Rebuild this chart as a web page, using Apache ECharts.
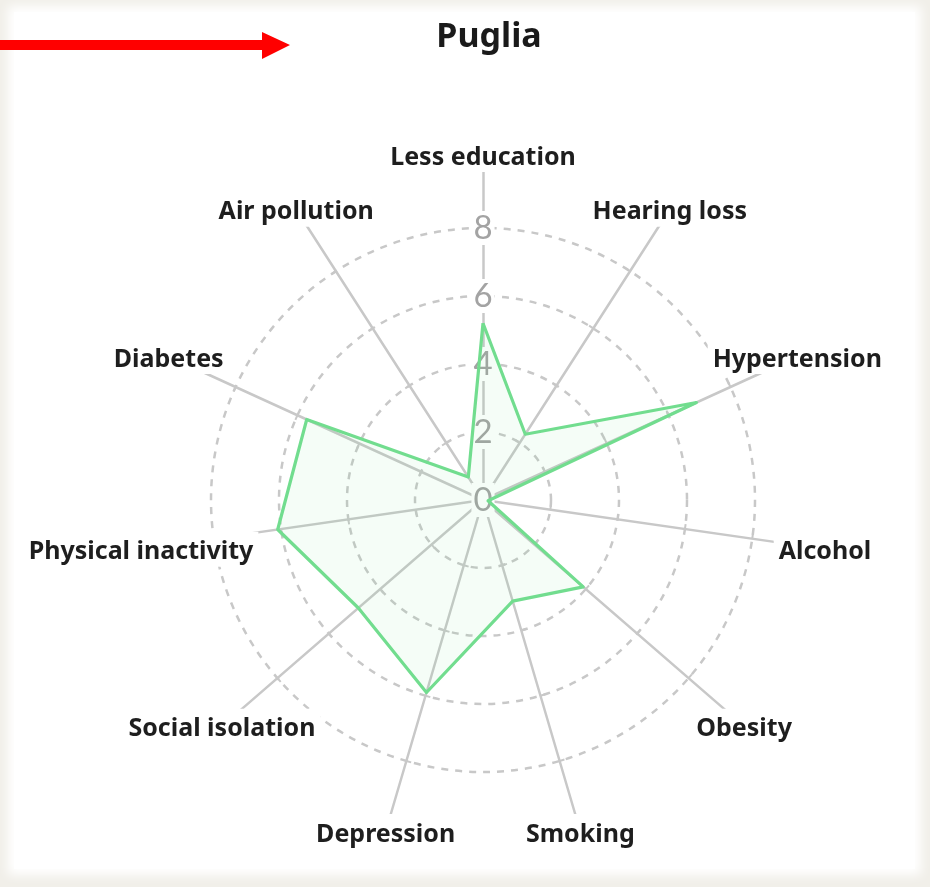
<!DOCTYPE html>
<html>
<head>
<meta charset="utf-8">
<script src="https://cdn.jsdelivr.net/npm/echarts@6/dist/echarts.min.js"></script>
<style>
  html, body { margin: 0; padding: 0; width: 930px; height: 887px; overflow: hidden; background: #f1efe9; }
  #card { position: absolute; left: 14px; top: 12px; width: 901px; height: 857px; background: #fff; box-shadow: 0 0 10px 6px #fff; }
  #chart { position: absolute; left: 0; top: 0; width: 930px; height: 887px; }
</style>
</head>
<body>
<div id="card"></div>
<div id="chart"></div>
<script>
// Risk factors, listed clockwise from the top
const categories = ['Less education', 'Hearing loss', 'Hypertension', 'Alcohol', 'Obesity', 'Smoking',
                    'Depression', 'Social isolation', 'Physical inactivity', 'Diabetes', 'Air pollution'];
const values = [5.2, 2.3, 6.9, 0.15, 3.9, 3.1, 5.9, 4.85, 6.1, 5.7, 0.8];
const tickLabels = ['0', '2', '4', '6', '8'];
const axisMax = 10;
const title = 'Puglia';

// ECharts lays out radar indicators counter-clockwise: keep first, reverse the rest
const order = [0].concat(categories.map((_, i) => i).slice(1).reverse());

const indicator = order.map((idx, k) => ({
  name: categories[idx],
  min: 0,
  max: axisMax,
  axisLabel: { show: k === 0 }
}));
const lineIndicator = order.map(idx => ({ name: categories[idx], min: 0, max: axisMax }));
const seriesData = order.map(idx => values[idx]);

const chart = echarts.init(document.getElementById('chart'), null, { renderer: 'canvas' });
chart.setOption({
  backgroundColor: 'transparent',
  animation: false,
  title: {
    text: title,
    left: 484,
    textAlign: 'center',
    top: 15,
    textStyle: { fontFamily: 'Noto Sans', fontWeight: 'bold', fontSize: 34, color: '#1a1a1a' }
  },
  graphic: [{
    type: 'polygon',
    shape: { points: [[0, 40], [262, 40], [262, 32], [290, 45], [262, 59], [262, 50], [0, 50]] },
    style: { fill: '#ff0000' },
    z: 10
  }],
  radar: [{
    // spokes with ticks (drawn underneath names and tick labels)
    z: 1,
    center: [483, 500],
    radius: 340,
    startAngle: 90,
    shape: 'circle',
    splitNumber: 5,
    axisName: { show: false },
    axisLine: { show: true, lineStyle: { color: '#c8c8c8', width: 2.5 } },
    axisTick: { show: true, length: 5, lineStyle: { color: '#c8c8c8', width: 2 } },
    axisLabel: { show: false },
    splitLine: { show: false },
    splitArea: { show: false },
    indicator: lineIndicator
  }, {
    z: 2,
    center: [483, 500],
    radius: 340,
    startAngle: 90,
    shape: 'circle',
    splitNumber: 5,
    nameGap: 5.5,
    axisName: {
      color: '#1e1e1e',
      fontFamily: 'Noto Sans',
      fontWeight: 'bold',
      fontSize: 25,
      backgroundColor: '#fff',
      padding: [2, 5],
      align: 'center',
      verticalAlign: 'middle',
      formatter: function (name) { return '{n|' + name + '}'; },
      rich: {
        n: {
          fontFamily: 'Noto Sans',
          fontWeight: 'bold',
          fontSize: 25,
          color: '#1e1e1e',
          padding: [6, 0, 0, 0]
        }
      }
    },
    axisLine: { show: false },
    axisTick: { show: false },
    axisLabel: {
      margin: 0,
      align: 'center',
      verticalAlign: 'middle',
      showMaxLabel: false,
      fontFamily: 'Lato',
      fontSize: 33,
      color: '#a3a3a3',
      backgroundColor: '#fff',
      padding: [1, 2, 0, 2],
      formatter: function (v) {
        const i = Math.round(v / 2);
        return (v % 2 === 0 && i < tickLabels.length) ? tickLabels[i] : '';
      }
    },
    splitLine: {
      show: true,
      lineStyle: {
        color: ['#c8c8c8', '#c8c8c8', '#c8c8c8', '#c8c8c8', '#c8c8c8', 'rgba(0,0,0,0)'],
        width: 2.5,
        type: [7, 7]
      }
    },
    splitArea: { show: false },
    indicator: indicator
  }],
  series: [{
    type: 'radar',
    radarIndex: 1,
    z: 5,
    symbol: 'none',
    lineStyle: { color: '#72dd8f', width: 3.2 },
    areaStyle: { color: 'rgba(114, 221, 143, 0.1)' },
    data: [{ value: seriesData, name: title }]
  }]
});
</script>
</body>
</html>
